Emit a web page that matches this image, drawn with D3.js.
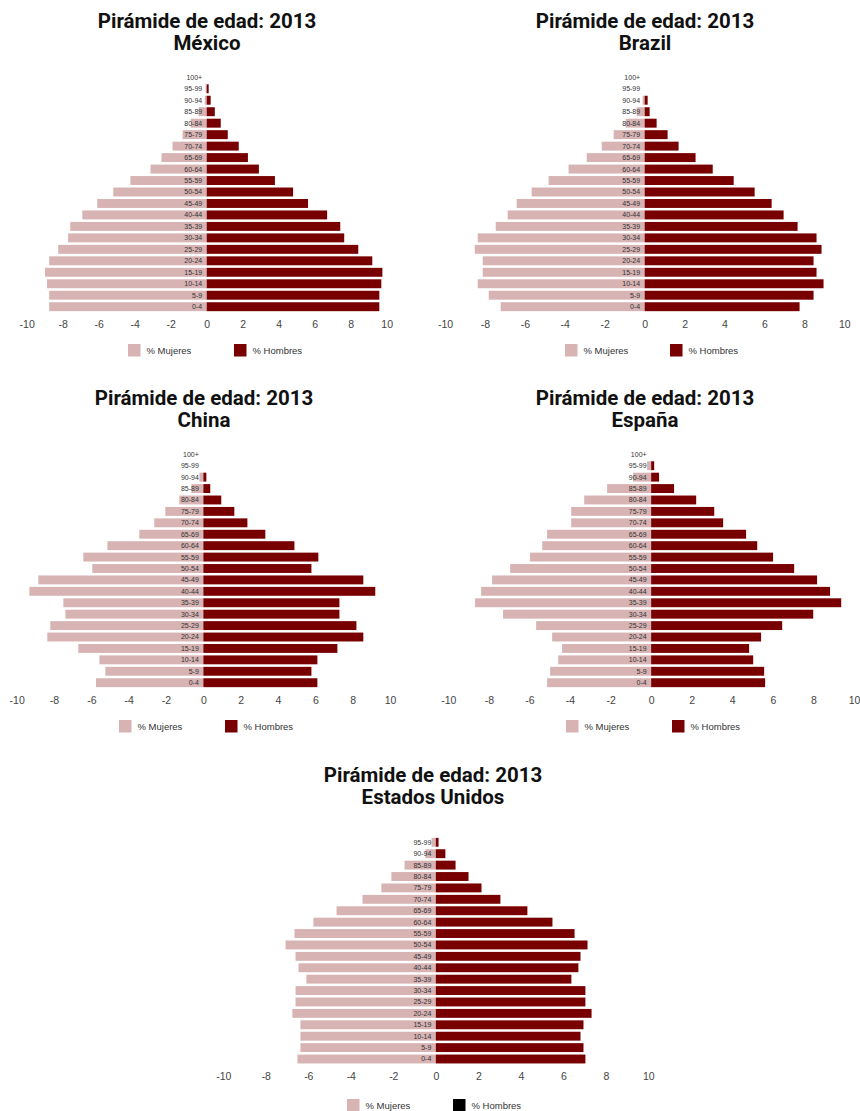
<!DOCTYPE html>
<html>
<head>
<meta charset="utf-8">
<script src="https://cdn.jsdelivr.net/npm/d3@7"></script>
<style>
  html, body { margin: 0; padding: 0; background: #fff; }
  svg { display: block; }
</style>
</head>
<body>
<svg id="chart" width="860" height="1111"></svg>
<script>
// ---------------- DATA ----------------
const ageGroups = ["0-4","5-9","10-14","15-19","20-24","25-29","30-34","35-39","40-44","45-49",
                   "50-54","55-59","60-64","65-69","70-74","75-79","80-84","85-89","90-94","95-99","100+"];
const ageGroupsUS = ["0-4","5-9","10-14","15-19","20-24","25-29","30-34","35-39","40-44","45-49",
                   "50-54","55-59","60-64","65-69","70-74","75-79","80-84","85-89","90-94","95-99"];

const titleText = "Pirámide de edad: 2013";
const countries = ["México","Brazil","China","España","Estados Unidos"];
const xTicks = [-10,-8,-6,-4,-2,0,2,4,6,8,10];
const legendLabels = ["% Mujeres","% Hombres"];

// values ordered as ageGroups (0-4 first)
const mexicoMujeres = [-8.75,-8.75,-8.87,-8.98,-8.75,-8.25,-7.70,-7.58,-6.91,-6.08,
                       -5.19,-4.24,-3.12,-2.51,-1.90,-1.34,-0.89,-0.45,-0.11,-0.06,0];
const mexicoHombres = [9.59,9.59,9.70,9.76,9.20,8.42,7.64,7.42,6.69,5.63,
                       4.80,3.79,2.90,2.29,1.78,1.17,0.78,0.45,0.22,0.11,0];

const brazilMujeres = [-7.21,-7.81,-8.36,-8.11,-8.11,-8.51,-8.36,-7.46,-6.86,-6.41,
                       -5.66,-4.81,-3.81,-2.90,-2.15,-1.55,-0.95,-0.40,-0.10,0,0];
const brazilHombres = [7.76,8.46,8.96,8.61,8.46,8.86,8.61,7.66,6.96,6.36,
                       5.51,4.46,3.41,2.55,1.70,1.15,0.60,0.25,0.15,0,0];

const chinaMujeres = [-5.75,-5.25,-5.57,-6.70,-8.36,-8.20,-7.39,-7.50,-9.32,-8.84,
                      -5.95,-6.43,-5.14,-3.43,-2.63,-2.04,-1.29,-0.64,-0.21,0,0];
const chinaHombres = [6.11,5.79,6.11,7.18,8.57,8.20,7.29,7.29,9.21,8.57,
                      5.79,6.16,4.88,3.32,2.36,1.66,0.96,0.37,0.16,0,0];

const espanaMujeres = [-5.13,-4.98,-4.58,-4.39,-4.88,-5.67,-7.30,-8.68,-8.38,-7.84,
                       -6.95,-5.97,-5.37,-5.13,-3.94,-3.94,-3.30,-2.17,-0.89,-0.20,0];
const espanaHombres = [5.62,5.57,5.03,4.83,5.42,6.46,7.99,9.37,8.82,8.18,
                       7.05,6.01,5.23,4.68,3.55,3.11,2.22,1.13,0.39,0.15,0];

const usMujeres = [-6.51,-6.37,-6.37,-6.37,-6.75,-6.60,-6.60,-6.09,-6.46,-6.60,
                   -7.07,-6.65,-5.76,-4.67,-3.45,-2.56,-2.09,-1.47,-0.49,-0.20];
const usHombres = [7.04,6.95,6.81,6.95,7.33,7.04,7.04,6.38,6.71,6.81,
                   7.14,6.53,5.49,4.31,3.04,2.15,1.54,0.93,0.45,0.13];

// ---------------- STYLE / LAYOUT ----------------
const colorMujeres = "#d7b3b3";
const colorHombres = "#780000";

const panels = [
  {country: countries[0], ages: ageGroups, women: mexicoMujeres, men: mexicoHombres,
   xMin: 26.7, xMax: 386.7, yTop: 77.3, yBot: 306.7, tickY: 324, titleX: 207, titleY: 28,
   legX: [128, 234], legY: 344, hombresLegend: colorHombres},
  {country: countries[1], ages: ageGroups, women: brazilMujeres, men: brazilHombres,
   xMin: 445, xMax: 844.3, yTop: 77.3, yBot: 306.7, tickY: 324, titleX: 645, titleY: 28,
   legX: [565, 670], legY: 344, hombresLegend: colorHombres},
  {country: countries[2], ages: ageGroups, women: chinaMujeres, men: chinaHombres,
   xMin: 16.7, xMax: 390, yTop: 454.3, yBot: 682.7, tickY: 700.7, titleX: 204, titleY: 405,
   legX: [119, 225], legY: 720, hombresLegend: colorHombres},
  {country: countries[3], ages: ageGroups, women: espanaMujeres, men: espanaHombres,
   xMin: 448.3, xMax: 854, yTop: 454.3, yBot: 682.7, tickY: 700.7, titleX: 645, titleY: 405,
   legX: [566, 672], legY: 720, hombresLegend: colorHombres},
  {country: countries[4], ages: ageGroupsUS, women: usMujeres, men: usHombres,
   xMin: 223.3, xMax: 648.3, yTop: 842.3, yBot: 1059, tickY: 1076.7, titleX: 433, titleY: 781.6,
   legX: [347, 453], legY: 1099, hombresLegend: "#000000"}
];

const svg = d3.select("#chart");

panels.forEach(p => {
  const g = svg.append("g");
  const n = p.ages.length;
  const step = (p.yBot - p.yTop) / (n - 1);
  const x = d3.scaleLinear().domain([-10, 10]).range([p.xMin, p.xMax]);
  const pi = 0.22;
  const y = d3.scaleBand()
    .domain(p.ages.slice().reverse())
    .range([p.yTop - step / 2, p.yBot + step / 2])
    .paddingInner(pi).paddingOuter(pi / 2);

  const rows = p.ages.map((a, i) => ({age: a, w: p.women[i], m: p.men[i]}));

  // women bars
  g.selectAll("rect.w").data(rows.filter(d => d.w !== 0)).join("rect")
    .attr("class", "w")
    .attr("x", d => x(Math.min(0, d.w)))
    .attr("width", d => Math.abs(x(d.w) - x(0)))
    .attr("y", d => y(d.age))
    .attr("height", y.bandwidth())
    .attr("fill", colorMujeres);

  // men bars
  g.selectAll("rect.m").data(rows.filter(d => d.m !== 0)).join("rect")
    .attr("class", "m")
    .attr("x", x(0))
    .attr("width", d => Math.abs(x(d.m) - x(0)))
    .attr("y", d => y(d.age))
    .attr("height", y.bandwidth())
    .attr("fill", colorHombres);

  // age labels
  g.selectAll("text.age").data(rows).join("text")
    .attr("class", "age")
    .attr("x", x(0) - 4.5)
    .attr("y", d => y(d.age) + y.bandwidth() / 2)
    .attr("dy", "0.35em")
    .attr("text-anchor", "end")
    .attr("font-family", "Liberation Sans, Arial, sans-serif")
    .attr("font-size", 7)
    .attr("fill", "#333")
    .text(d => d.age);

  // x axis
  const fs = 10.5;
  const axis = d3.axisBottom(x).tickValues(xTicks).tickSize(0).tickPadding(0)
    .tickFormat(d => String(d));
  const ag = g.append("g")
    .attr("transform", `translate(0,${p.tickY - 0.35 * fs})`)
    .call(axis);
  ag.select(".domain").remove();
  ag.selectAll("text")
    .attr("font-family", "Liberation Sans, Arial, sans-serif")
    .attr("font-size", fs)
    .attr("fill", "#444");

  // titles
  const t = g.append("text")
    .attr("x", p.titleX)
    .attr("text-anchor", "middle")
    .attr("font-family", "Roboto, sans-serif")
    .attr("font-weight", "bold")
    .attr("font-size", 20.5)
    .attr("fill", "#111");
  t.append("tspan").attr("x", p.titleX).attr("y", p.titleY).text(titleText);
  t.append("tspan").attr("x", p.titleX).attr("y", p.titleY + 22).text(p.country);

  // legend
  const legColors = [colorMujeres, p.hombresLegend];
  legendLabels.forEach((lab, i) => {
    g.append("rect")
      .attr("x", p.legX[i]).attr("y", p.legY)
      .attr("width", 12.5).attr("height", 12.5)
      .attr("fill", legColors[i]);
    g.append("text")
      .attr("x", p.legX[i] + 18.5)
      .attr("y", p.legY + 6.25)
      .attr("dy", "0.35em")
      .attr("font-family", "Liberation Sans, Arial, sans-serif")
      .attr("font-size", 9.5)
      .attr("fill", "#333")
      .text(lab);
  });
});
</script>
</body>
</html>
